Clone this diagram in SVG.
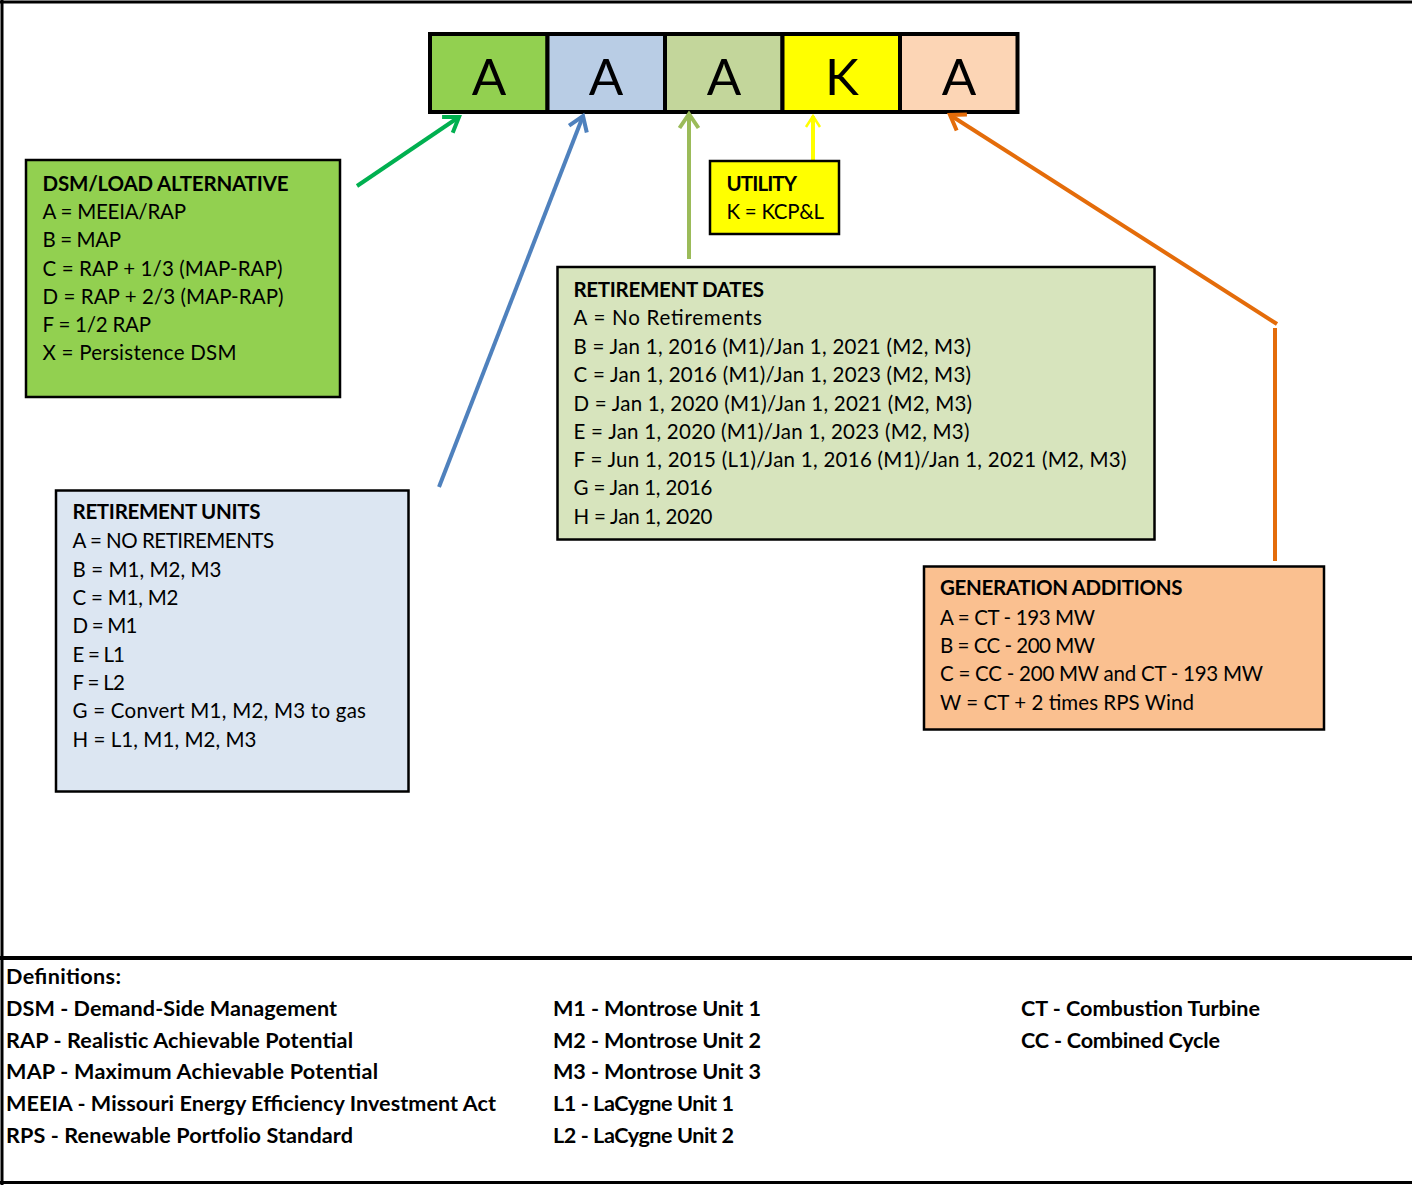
<svg xmlns="http://www.w3.org/2000/svg" width="1412" height="1185" viewBox="0 0 1412 1185">
  <style>
    .frame { stroke: #000; fill: none; }
    .box { stroke: #000; stroke-width: 2.5; }
    .cell { stroke: #000; stroke-width: 4; }
    .code { font-family: Lato, "Open Sans", sans-serif; font-size: 51px; fill: #000; text-anchor: middle; }
    .t { font-family: Lato, "Open Sans", sans-serif; font-size: 20.5px; fill: #000; }
    .h { font-weight: bold; }
    .def { font-family: Lato, "Open Sans", sans-serif; font-size: 21.6px; font-weight: bold; fill: #000; }
    .conn { fill: none; stroke-width: 4; }
  </style>
  <defs>
    <marker id="ah-green" markerUnits="userSpaceOnUse" markerWidth="24" markerHeight="24" viewBox="-20 -12 24 24" refX="0" refY="0" orient="auto" overflow="visible">
      <path d="M-14,-9.5 L0,0 L-14,9.5" fill="none" stroke="#00B050" stroke-width="4"/>
    </marker>
    <marker id="ah-blue" markerUnits="userSpaceOnUse" markerWidth="24" markerHeight="24" viewBox="-20 -12 24 24" refX="0" refY="0" orient="auto" overflow="visible">
      <path d="M-14,-9.5 L0,0 L-14,9.5" fill="none" stroke="#4F81BD" stroke-width="4"/>
    </marker>
    <marker id="ah-olive" markerUnits="userSpaceOnUse" markerWidth="24" markerHeight="24" viewBox="-20 -12 24 24" refX="0" refY="0" orient="auto" overflow="visible">
      <path d="M-14,-9.5 L0,0 L-14,9.5" fill="none" stroke="#9BBB59" stroke-width="4"/>
    </marker>
    <marker id="ah-yellow" markerUnits="userSpaceOnUse" markerWidth="20" markerHeight="20" viewBox="-16 -10 20 20" refX="0" refY="0" orient="auto" overflow="visible">
      <path d="M-11,-7 L0,0 L-11,7" fill="none" stroke="#FFFF00" stroke-width="2.5"/>
    </marker>
    <marker id="ah-orange" markerUnits="userSpaceOnUse" markerWidth="24" markerHeight="24" viewBox="-20 -12 24 24" refX="0" refY="0" orient="auto" overflow="visible">
      <path d="M-14,-9.5 L0,0 L-14,9.5" fill="none" stroke="#E46C0A" stroke-width="4"/>
    </marker>
  </defs>

  <rect x="0" y="0" width="1412" height="1185" fill="#fff"/>

  <!-- page frame and separator above the definitions -->
  <g id="frame">
    <line class="frame" x1="0" y1="2" x2="1412" y2="2" stroke-width="3"/>
    <line class="frame" x1="2" y1="0" x2="2" y2="1185" stroke-width="3"/>
    <line class="frame" x1="0" y1="958" x2="1412" y2="958" stroke-width="4"/>
    <line class="frame" x1="0" y1="1182.5" x2="1412" y2="1182.5" stroke-width="3"/>
  </g>

  <!-- five-letter plan code -->
  <g id="plan-code">
    <rect class="cell" x="430" y="34" width="117.5" height="78" fill="#92D050"/>
    <rect class="cell" x="547.5" y="34" width="117.5" height="78" fill="#B9CDE5"/>
    <rect class="cell" x="665" y="34" width="117.5" height="78" fill="#C3D69B"/>
    <rect class="cell" x="782.5" y="34" width="117.5" height="78" fill="#FFFF00"/>
    <rect class="cell" x="900" y="34" width="117.5" height="78" fill="#FCD5B5"/>
    <text class="code" x="489" y="94.5">A</text>
    <text class="code" x="606" y="94.5">A</text>
    <text class="code" x="724" y="94.5">A</text>
    <text class="code" x="842" y="94.5">K</text>
    <text class="code" x="959" y="94.5">A</text>
  </g>

  <!-- connectors from each legend box to its letter -->
  <g id="connectors">
    <line class="conn" x1="357" y1="186" x2="459" y2="117" stroke="#00B050" marker-end="url(#ah-green)"/>
    <line class="conn" x1="439" y1="487" x2="583" y2="116" stroke="#4F81BD" marker-end="url(#ah-blue)"/>
    <line class="conn" x1="689" y1="259" x2="689" y2="114" stroke="#9BBB59" marker-end="url(#ah-olive)"/>
    <line class="conn" x1="813" y1="160" x2="813" y2="116" stroke="#FFFF00" stroke-width="2.5" marker-end="url(#ah-yellow)"/>
    <line class="conn" x1="1275" y1="561" x2="1275" y2="328" stroke="#E46C0A"/>
    <line class="conn" x1="1277" y1="324" x2="950" y2="115" stroke="#E46C0A" marker-end="url(#ah-orange)"/>
  </g>

  <g id="dsm-load-alternative">
    <rect class="box" x="26" y="160" width="314" height="237" fill="#92D050"/>
    <text class="t h" x="42.5" y="191" textLength="246">DSM/LOAD ALTERNATIVE</text>
    <text class="t" x="42.5" y="218.5" textLength="143.5">A = MEEIA/RAP</text>
    <text class="t" x="42.5" y="247" textLength="78.5">B = MAP</text>
    <text class="t" x="42.5" y="275.5" textLength="240">C = RAP + 1/3 (MAP-RAP)</text>
    <text class="t" x="42.5" y="304" textLength="241">D = RAP + 2/3 (MAP-RAP)</text>
    <text class="t" x="42.5" y="332" textLength="108.5">F = 1/2 RAP</text>
    <text class="t" x="42.5" y="360" textLength="194">X = Persistence DSM</text>
  </g>

  <g id="utility">
    <rect class="box" x="710" y="161" width="129" height="73" fill="#FFFF00"/>
    <text class="t h" x="726.5" y="191" textLength="70.5">UTILITY</text>
    <text class="t" x="726.5" y="219" textLength="97.5">K = KCP&amp;L</text>
  </g>

  <g id="retirement-dates">
    <rect class="box" x="557.5" y="267" width="597" height="272.5" fill="#D7E4BD"/>
    <text class="t h" x="573.5" y="296.5" textLength="190.5">RETIREMENT DATES</text>
    <text class="t" x="573.5" y="325" textLength="188.5">A = No Retirements</text>
    <text class="t" x="573.5" y="354" textLength="397.5">B = Jan 1, 2016 (M1)/Jan 1, 2021 (M2, M3)</text>
    <text class="t" x="573.5" y="382" textLength="397.5">C = Jan 1, 2016 (M1)/Jan 1, 2023 (M2, M3)</text>
    <text class="t" x="573.5" y="410.5" textLength="398.5">D = Jan 1, 2020 (M1)/Jan 1, 2021 (M2, M3)</text>
    <text class="t" x="573.5" y="438.5" textLength="396">E = Jan 1, 2020 (M1)/Jan 1, 2023 (M2, M3)</text>
    <text class="t" x="573.5" y="466.5" textLength="553">F = Jun 1, 2015 (L1)/Jan 1, 2016 (M1)/Jan 1, 2021 (M2, M3)</text>
    <text class="t" x="573.5" y="495" textLength="139">G = Jan 1, 2016</text>
    <text class="t" x="573.5" y="523.5" textLength="139">H = Jan 1, 2020</text>
  </g>

  <g id="retirement-units">
    <rect class="box" x="56" y="490.5" width="352.5" height="301" fill="#DCE6F2"/>
    <text class="t h" x="72.5" y="518.5" textLength="188">RETIREMENT UNITS</text>
    <text class="t" x="72.5" y="548" textLength="201.5">A = NO RETIREMENTS</text>
    <text class="t" x="72.5" y="576.5" textLength="149">B = M1, M2, M3</text>
    <text class="t" x="72.5" y="605" textLength="106">C = M1, M2</text>
    <text class="t" x="72.5" y="633" textLength="65">D = M1</text>
    <text class="t" x="72.5" y="661.5" textLength="52.5">E = L1</text>
    <text class="t" x="72.5" y="690" textLength="52.5">F = L2</text>
    <text class="t" x="72.5" y="718" textLength="293.5">G = Convert M1, M2, M3 to gas</text>
    <text class="t" x="72.5" y="746.5" textLength="184">H = L1, M1, M2, M3</text>
  </g>

  <g id="generation-additions">
    <rect class="box" x="924" y="566.5" width="400" height="163" fill="#FAC090"/>
    <text class="t h" x="940" y="595" textLength="242.5">GENERATION ADDITIONS</text>
    <text class="t" x="940" y="625" textLength="155">A = CT - 193 MW</text>
    <text class="t" x="940" y="653" textLength="155">B = CC - 200 MW</text>
    <text class="t" x="940" y="681" textLength="323">C = CC - 200 MW and CT - 193 MW</text>
    <text class="t" x="940" y="709.5" textLength="254">W = CT + 2 times RPS Wind</text>
  </g>

  <g id="definitions">
    <text class="def" x="6" y="983.5" textLength="115">Definitions:</text>
    <text class="def" x="6" y="1016" textLength="331">DSM - Demand-Side Management</text>
    <text class="def" x="6" y="1047.5" textLength="347">RAP - Realistic Achievable Potential</text>
    <text class="def" x="6" y="1079" textLength="372">MAP - Maximum Achievable Potential</text>
    <text class="def" x="6" y="1110.5" textLength="490">MEEIA - Missouri Energy Efficiency Investment Act</text>
    <text class="def" x="6" y="1142.5" textLength="347">RPS - Renewable Portfolio Standard</text>
    <text class="def" x="553" y="1016" textLength="208">M1 - Montrose Unit 1</text>
    <text class="def" x="553" y="1047.5" textLength="208">M2 - Montrose Unit 2</text>
    <text class="def" x="553" y="1079" textLength="208">M3 - Montrose Unit 3</text>
    <text class="def" x="553" y="1110.5" textLength="181">L1 - LaCygne Unit 1</text>
    <text class="def" x="553" y="1142.5" textLength="181">L2 - LaCygne Unit 2</text>
    <text class="def" x="1021" y="1016" textLength="239">CT - Combustion Turbine</text>
    <text class="def" x="1021" y="1047.5" textLength="199">CC - Combined Cycle</text>
  </g>
</svg>
